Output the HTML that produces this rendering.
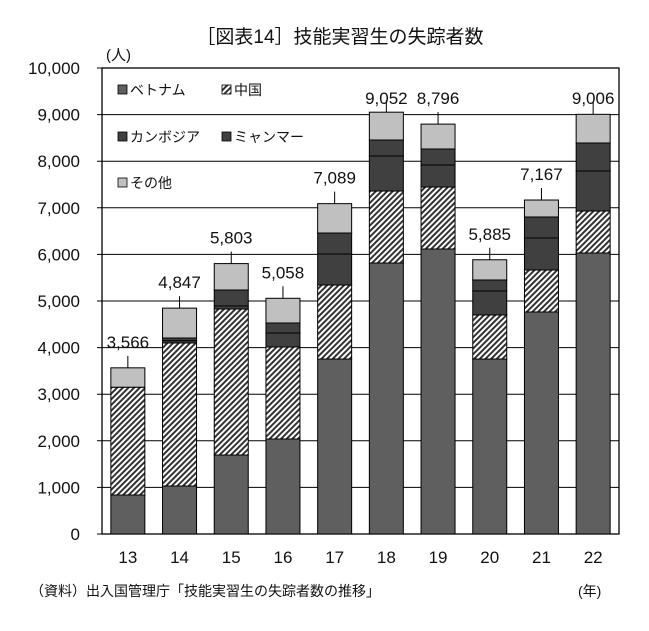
<!DOCTYPE html>
<html><head><meta charset="utf-8"><style>
body{margin:0;background:#fff;}
svg text{font-family:"Liberation Sans","Noto Sans CJK JP",sans-serif;fill:#111;}
</style></head><body>
<svg id="chart" width="649" height="626" xmlns="http://www.w3.org/2000/svg">
<defs>
<pattern id="hatch" patternUnits="userSpaceOnUse" width="4" height="4" patternTransform="rotate(45)">
<rect width="4" height="4" fill="#fff"/><rect width="2" height="4" fill="#333"/>
</pattern>
</defs>
<text x="340" y="43" text-anchor="middle" font-size="19">［図表14］技能実習生の失踪者数</text>
<text x="106" y="60" font-size="15">(人)</text>
<g id="grid"></g>
<g id="bars"></g>
<g id="legend"></g>
<text x="30" y="596" font-size="14">（資料）出入国管理庁「技能実習生の失踪者数の推移」</text>
<text x="578" y="596" font-size="14">(年)</text>
</svg>
<script>
const categories=["13","14","15","16","17","18","19","20","21","22"];
const vietnam=[837,1030,1695,2039,3755,5815,6116,3755,4764,6030];
const china=[2313,3069,3133,1974,1588,1545,1330,945,901,901];
const cambodia=[0,50,65,300,666,752,472,515,687,859];
const myanmar=[0,57,343,215,450,343,344,236,451,601];
const others=[416,641,567,530,630,597,534,434,364,615];
const totals=[3566,4847,5803,5058,7089,9052,8796,5885,7167,9006];
const yTicks=[0,1000,2000,3000,4000,5000,6000,7000,8000,9000,10000];
const yTickLabels=["0","1,000","2,000","3,000","4,000","5,000","6,000","7,000","8,000","9,000","10,000"];

const NS="http://www.w3.org/2000/svg";
const L=102,R=619,T=68,B=534,yMax=10000;
const y=v=>B-(v/yMax)*(B-T);
const band=(R-L)/categories.length;
const xc=i=>L+band*(i+0.5);
const bw=34;
function mk(tag,attrs,parent){const e=document.createElementNS(NS,tag);for(const k in attrs)e.setAttribute(k,attrs[k]);parent.appendChild(e);return e;}
const grid=document.getElementById('grid'),bars=document.getElementById('bars'),leg=document.getElementById('legend');
yTicks.forEach((t,i)=>{
  const ln=mk('line',{x1:L-5,x2:R,y1:y(t),y2:y(t),stroke:'#000','stroke-width':1},grid);
  
  
  const tx=mk('text',{x:80,y:y(t)+6,'text-anchor':'end','font-size':17},grid);
  tx.textContent=yTickLabels[i];
  
  
});
const frame=mk('rect',{x:L,y:T,width:R-L,height:B-T,fill:'none',stroke:'#000','stroke-width':1.3},grid);


const series=[[vietnam,'#5f5f5f','vietnam'],[china,'url(#hatch)','china'],[cambodia,'#404040','cambodia'],[myanmar,'#404040','myanmar'],[others,'#c0c0c0','others']];
categories.forEach((c,i)=>{
  let acc=0;
  series.forEach(([arr,fill,nm])=>{
    const v=arr[i];if(v<=0)return;
    const r=mk('rect',{x:xc(i)-bw/2,y:y(acc+v),width:bw,height:y(acc)-y(acc+v),fill:fill,stroke:'#000','stroke-width':1},bars);
    
    
    acc+=v;
  });
  const top=y(totals[i]);
  const ly=Math.max(top-20,104);
  if(top-ly>8){
    const ll=mk('line',{x1:xc(i),x2:xc(i),y1:top,y2:top-12,stroke:'#000','stroke-width':1},bars);
    
    
  }
  const tl=mk('text',{x:xc(i),y:ly,'text-anchor':'middle','font-size':17},bars);
  tl.textContent=totals[i].toLocaleString('en-US');
  
  
  const xl=mk('text',{x:xc(i),y:563,'text-anchor':'middle','font-size':17},bars);
  xl.textContent=c;
  
  
});
const legItems=[['ベトナム','#5f5f5f',118,90],['中国','url(#hatch)',222,90],['カンボジア','#404040',118,137],['ミャンマー','#404040',222,137],['その他','#c0c0c0',118,183]];
legItems.forEach(([t,f,x0,y0])=>{
  const g=mk('g',{},leg);
  
  
  mk('rect',{x:x0,y:y0-5,width:9,height:9,fill:f,stroke:'#000','stroke-width':0.8},g);
  const tx=mk('text',{x:x0+12,y:y0+5,'font-size':14},g);
  tx.textContent=t;
});
</script>
</body></html>
